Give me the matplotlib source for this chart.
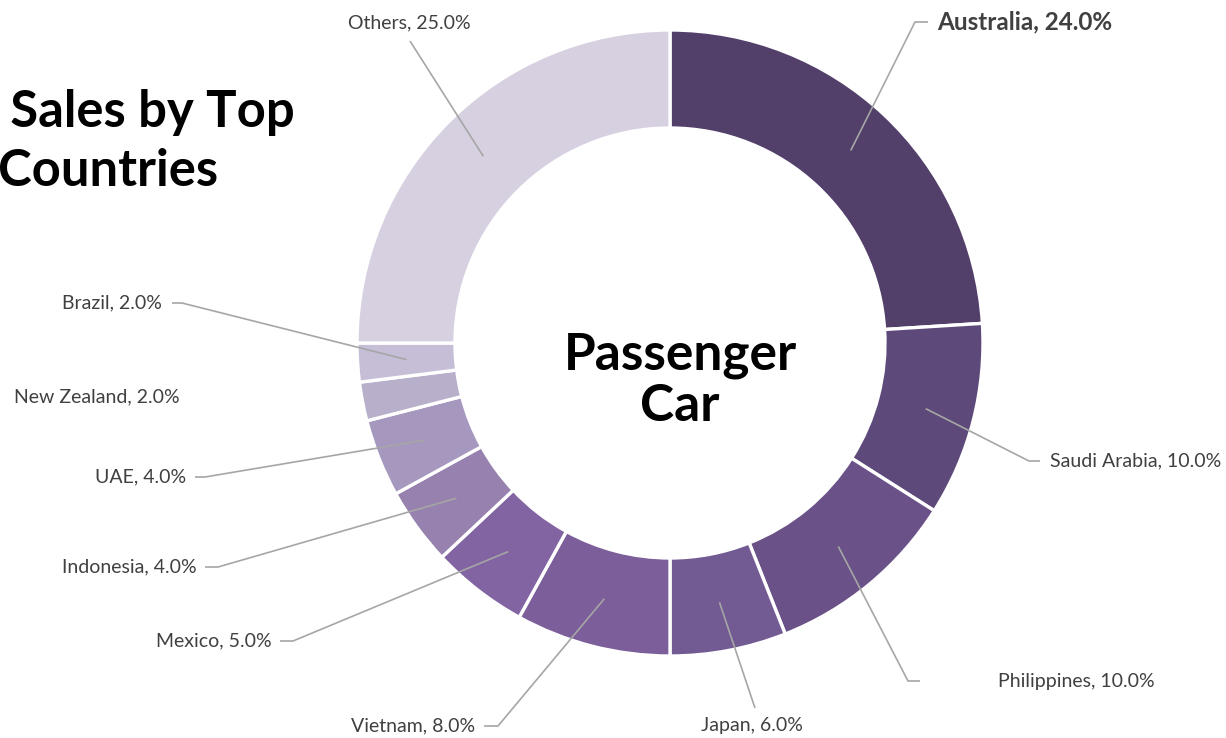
import matplotlib.pyplot as plt
import numpy as np

countries = ['Australia', 'Saudi Arabia', 'Philippines', 'Japan', 'Vietnam', 'Mexico',
             'Indonesia', 'UAE', 'New Zealand', 'Brazil', 'Others']
shares = [24.0, 10.0, 10.0, 6.0, 8.0, 5.0, 4.0, 4.0, 2.0, 2.0, 25.0]
colors = ['#523F6A', '#5E4A7A', '#6A5188', '#725A92', '#7B5E9A', '#8364A3',
          '#9681AF', '#A697BE', '#B8AFCB', '#C6BED6', '#D7D0E1']

W, H = 1226, 738
# label layout in pixel coords (y down): text anchor, leader bend points, alignment
label_pos = {
    'Australia': ((937, 22), [(915, 22), (928, 22)], 'left'),
    'Saudi Arabia': ((1050, 461), [(1029, 461), (1040, 461)], 'left'),
    'Philippines': ((998, 681), [(908, 681), (920, 681)], 'left'),
    'Japan': ((752, 726), [(755, 708)], 'center'),
    'Vietnam': ((475, 726), [(498, 726), (484, 726)], 'right'),
    'Mexico': ((272, 641), [(293, 641), (280, 641)], 'right'),
    'Indonesia': ((197, 567), [(218, 567), (205, 567)], 'right'),
    'UAE': ((186, 477), [(205, 477), (195, 477)], 'right'),
    'New Zealand': ((180, 397), [], 'right'),
    'Brazil': ((162, 303), [(182, 303), (172, 303)], 'right'),
    'Others': ((409, 23), [(410, 41)], 'center'),
}


def px(x, y):
    return x, H - y


plt.rcParams['font.family'] = ['Lato', 'DejaVu Sans']

fig = plt.figure(figsize=(W / 100, H / 100), dpi=100)
ax = fig.add_axes([0, 0, 1, 1])

cx, cy = px(670, 343)
r_out, r_in = 313, 215
wedges, _ = ax.pie(shares, colors=colors, startangle=90, counterclock=False,
                   center=(cx, cy), radius=r_out, frame=True,
                   wedgeprops=dict(width=r_out - r_in, edgecolor='white', linewidth=2.4))
ax.set_xlim(0, W)
ax.set_ylim(0, H)
ax.set_aspect('equal')
ax.axis('off')

r_mid = (r_out + r_in) / 2
for w, name, val in zip(wedges, countries, shares):
    (tx, ty), bends, ha = label_pos[name]
    if bends:
        ang = np.deg2rad((w.theta1 + w.theta2) / 2)
        pts = [(cx + r_mid * np.cos(ang), cy + r_mid * np.sin(ang))] + [px(*b) for b in bends]
        xs, ys = zip(*pts)
        ax.plot(xs, ys, color='#A6A6A6', lw=1.2, solid_capstyle='butt')
    bold = name == 'Australia'
    ax.text(*px(tx, ty), f'{name}, {val:.1f}%', ha=ha, va='center',
            fontsize=17.5 if bold else 14, fontweight='bold' if bold else 'normal',
            color='#404040')

ax.text(*px(680, 381), 'Passenger\nCar', ha='center', va='center', fontsize=37,
        fontweight='bold', color='black', linespacing=1.13)
ax.text(*px(-2, 142), ' Sales by Top\nCountries', ha='left', va='center', fontsize=36.5,
        fontweight='bold', color='black', linespacing=1.3)

fig.savefig('out.png', dpi=100)
